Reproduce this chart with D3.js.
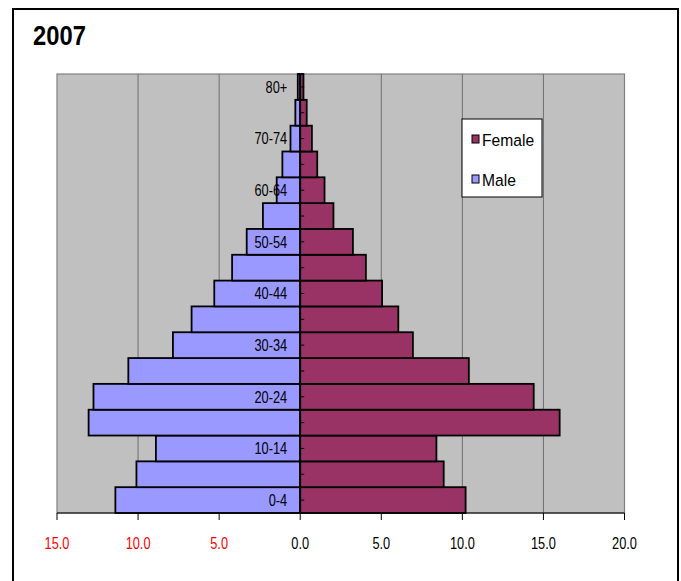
<!DOCTYPE html>
<html>
<head>
<meta charset="utf-8">
<script src="https://cdn.jsdelivr.net/npm/d3@7"></script>
<style>
  body { margin: 0; background: #fff; }
  text { font-family: "Liberation Sans", Arial, sans-serif; }
</style>
</head>
<body>
<div id="chart"></div>
<script>
const ageGroups = ["0-4", "5-9", "10-14", "15-19", "20-24", "25-29", "30-34", "35-39",
  "40-44", "45-49", "50-54", "55-59", "60-64", "65-69", "70-74", "75-79", "80+"];
const maleValues = [11.4, 10.1, 8.9, 13.05, 12.75, 10.6, 7.85, 6.7,
  5.3, 4.2, 3.3, 2.3, 1.45, 1.1, 0.6, 0.3, 0.15];
const femaleValues = [10.2, 8.85, 8.4, 16.0, 14.4, 10.4, 6.95, 6.05,
  5.05, 4.05, 3.25, 2.05, 1.5, 1.05, 0.72, 0.4, 0.2];
const xTicks = [-15, -10, -5, 0, 5, 10, 15, 20];
const title = "2007";
const legendItems = ["Female", "Male"];

// layout constants
const width = 681;
const height = 581;
const plot = { left: 57, right: 624.5, top: 74, bottom: 513 };
// the original uses a condensed face, so squeeze text horizontally
const squeeze = 0.8;

const colors = {
  male: "#9999ff",
  female: "#993366",
  plotBg: "#c0c0c0",
  grid: "#6f6f6f",
  border: "#808080",
  negative: "#ff0000"
};

var svg = d3
  .select("#chart")
  .append("svg")
  .attr("width", width)
  .attr("height", height);

// outer frame (bottom edge runs off the picture)
svg
  .append("rect")
  .attr("x", 13)
  .attr("y", 9)
  .attr("width", 665)
  .attr("height", 600)
  .attr("fill", "#fff")
  .attr("stroke", "#000")
  .attr("stroke-width", 2);

svg
  .append("text")
  .attr("transform", "translate(33,45) scale(0.88,1)")
  .style("font-weight", "bold")
  .style("font-size", "27px")
  .text(title);

var x = d3.scaleLinear().domain([-15, 20]).range([plot.left, plot.right]);
var y = d3
  .scaleBand()
  .domain(ageGroups)
  .range([plot.bottom, plot.top])
  .padding(0);

// grey plot area
svg
  .append("rect")
  .attr("x", plot.left)
  .attr("y", plot.top)
  .attr("width", plot.right - plot.left)
  .attr("height", plot.bottom - plot.top)
  .attr("fill", colors.plotBg)
  .attr("stroke", colors.border)
  .attr("stroke-width", 1.2);

// vertical gridlines
svg
  .append("g")
  .selectAll("line")
  .data(xTicks.filter(function(d) { return d != 0 && d != -15 && d != 20; }))
  .enter()
  .append("line")
  .attr("x1", function(d) { return x(d); })
  .attr("x2", function(d) { return x(d); })
  .attr("y1", plot.top)
  .attr("y2", plot.bottom)
  .attr("stroke", colors.grid)
  .attr("stroke-width", 1);

// male bars grow left, female bars grow right
svg
  .append("g")
  .selectAll("rect")
  .data(maleValues)
  .enter()
  .append("rect")
  .attr("x", function(d) { return x(-d); })
  .attr("y", function(d, i) { return y(ageGroups[i]); })
  .attr("width", function(d) { return x(0) - x(-d); })
  .attr("height", y.bandwidth())
  .attr("fill", colors.male)
  .attr("stroke", "#000")
  .attr("stroke-width", 1.8);

svg
  .append("g")
  .selectAll("rect")
  .data(femaleValues)
  .enter()
  .append("rect")
  .attr("x", x(0))
  .attr("y", function(d, i) { return y(ageGroups[i]); })
  .attr("width", function(d) { return x(d) - x(0); })
  .attr("height", y.bandwidth())
  .attr("fill", colors.female)
  .attr("stroke", "#000")
  .attr("stroke-width", 1.8);

// category axis at zero, ticks at band centres, every other label
var yAxis = svg.append("g");
yAxis
  .append("line")
  .attr("x1", x(0))
  .attr("x2", x(0))
  .attr("y1", plot.top)
  .attr("y2", plot.bottom)
  .attr("stroke", "#000")
  .attr("stroke-width", 1.2);

yAxis
  .selectAll(".ytick")
  .data(ageGroups)
  .enter()
  .append("line")
  .attr("class", "ytick")
  .attr("x1", x(0))
  .attr("x2", x(0) + 4)
  .attr("y1", function(d) { return y(d) + y.bandwidth() / 2; })
  .attr("y2", function(d) { return y(d) + y.bandwidth() / 2; })
  .attr("stroke", "#000");

yAxis
  .selectAll("text")
  .data(ageGroups.filter(function(d, i) { return i % 2 == 0; }))
  .enter()
  .append("text")
  .attr("transform", function(d) {
    return "translate(" + (x(0) - 13) + "," + (y(d) + y.bandwidth() / 2) + ") scale(" + squeeze + ",1)";
  })
  .attr("dy", "0.36em")
  .attr("text-anchor", "end")
  .style("font-size", "16px")
  .text(function(d) { return d; });

// value axis along the bottom
var xAxis = svg.append("g");
xAxis
  .append("line")
  .attr("x1", plot.left)
  .attr("x2", plot.right)
  .attr("y1", plot.bottom)
  .attr("y2", plot.bottom)
  .attr("stroke", "#000")
  .attr("stroke-width", 1.2);

xAxis
  .selectAll(".xtick")
  .data(xTicks)
  .enter()
  .append("line")
  .attr("class", "xtick")
  .attr("x1", function(d) { return x(d); })
  .attr("x2", function(d) { return x(d); })
  .attr("y1", plot.bottom)
  .attr("y2", plot.bottom + 7)
  .attr("stroke", "#000");

xAxis
  .selectAll("text")
  .data(xTicks)
  .enter()
  .append("text")
  .attr("transform", function(d) { return "translate(" + x(d) + ",549) scale(" + squeeze + ",1)"; })
  .attr("text-anchor", "middle")
  .style("font-size", "16px")
  .attr("fill", function(d) { return d < 0 ? colors.negative : "#000"; })
  .text(function(d) { return d3.format(".1f")(Math.abs(d)); });

// legend box
var legend = svg.append("g");
legend
  .append("rect")
  .attr("x", 462)
  .attr("y", 119)
  .attr("width", 80)
  .attr("height", 78)
  .attr("fill", "#fff")
  .attr("stroke", "#000")
  .attr("stroke-width", 1);

var legendRows = legend
  .selectAll(".legend-row")
  .data(legendItems)
  .enter()
  .append("g")
  .attr("class", "legend-row")
  .attr("transform", function(d, i) { return "translate(0," + (140 + i * 40) + ")"; });

legendRows
  .append("rect")
  .attr("x", 472)
  .attr("y", -5)
  .attr("width", 7)
  .attr("height", 8)
  .attr("fill", function(d) { return d == "Female" ? colors.female : colors.male; })
  .attr("stroke", "#000")
  .attr("stroke-width", 1);

legendRows
  .append("text")
  .attr("transform", "translate(482,0) scale(0.92,1)")
  .attr("dy", "0.36em")
  .style("font-size", "17px")
  .text(function(d) { return d; });
</script>
</body>
</html>
